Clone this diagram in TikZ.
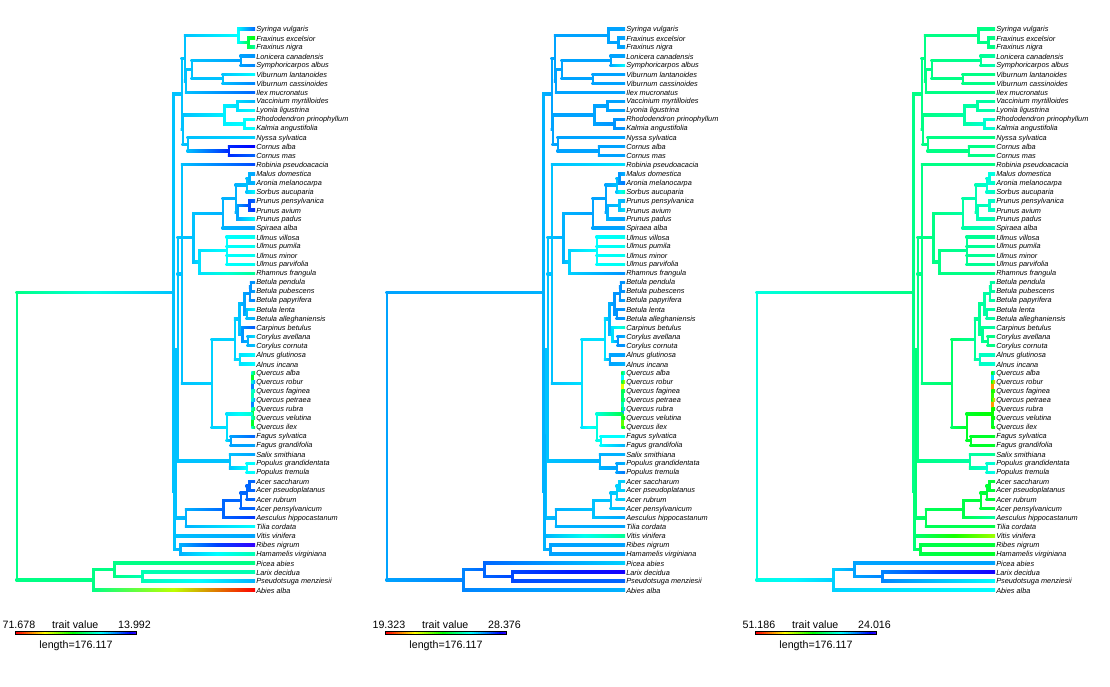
\documentclass[tikz,border=0pt]{standalone}
\usepackage{fontspec}
\setmainfont{Liberation Sans}
\usepackage{xcolor}
\usepackage{tikz}
\usetikzlibrary{calc}

% colour of a node: hue in panel 1, 2, 3
\newcommand{\setnodehue}[4]{%
  \edef\hh{\ifcase\tid\or#2\or#3\or#4\fi}%
  \expandafter\let\csname hue-#1\endcsname\hh
  \definecolor{c#1}{hsb}{\hh,1,1}}

% tip: name, row, hues, species
\newcommand{\leaf}[6]{%
  \setnodehue{#1}{#3}{#4}{#5}%
  \coordinate (#1) at ({\dx+255},{29+(#2-1)*9.05});
  \node[tiplab] (#1-lab) at (#1) {#6};}

% inner node: name, x, first child, last child, hues
\newcommand{\clade}[7]{%
  \setnodehue{#1}{#5}{#6}{#7}%
  \path let \p1=(#3), \p2=(#4), \p3=({\dx+#2},0) in (\x3,{0.5*\y1+0.5*\y2}) coordinate (#1);}

% branch parent -> child
\newcommand{\branch}[2]{%
  \pgfmathsetmacro\hm{0.5*(\csname hue-#1\endcsname+\csname hue-#2\endcsname)}%
  \definecolor{cmid}{hsb}{\hm,1,1}%
  \draw[vline, c#1] (#1) -- (#1 |- #2);
  \shade[left color=c#1, right color=c#2, middle color=cmid] ($(#1 |- #2)+(-0.9pt,-0.9pt)$) rectangle ($(#2)+(0pt,0.9pt)$);}
% short branch, upright part in the child's colour
\newcommand{\qbranch}[2]{%
  \draw[vline, c#2] (#1) -- (#1 |- #2);
  \shade[left color=c#1, right color=c#2] ($(#1 |- #2)+(-0.9pt,-0.9pt)$) rectangle ($(#2)+(0pt,0.9pt)$);}

\begin{document}
\begin{tikzpicture}[x=0.75pt, y=-0.75pt,
    vline/.style={line width=1.8pt},
    tiplab/.style={anchor=west, inner sep=0.75pt, yshift=-0.4pt, font=\fontsize{5.5}{6}\selectfont\itshape},
    lgd/.style={inner sep=0pt, font=\fontsize{8}{9.6}\selectfont}]
    \fill[white] (0,0) rectangle (1110,686);
    \useasboundingbox (0,0) rectangle (1110,686);

    \foreach \tid/\dx/\tmin/\tmax in {1/0/71.678/13.992, 2/370/19.323/28.376, 3/740/51.186/24.016} {
    % Tips
    \leaf{syr}{1}{.6}{.56}{.42}{Syringa vulgaris}
    \leaf{frx}{2}{.33}{.56}{.42}{Fraxinus excelsior}
    \leaf{frn}{3}{.44}{.56}{.42}{Fraxinus nigra}
    \leaf{lon}{4}{.57}{.56}{.44}{Lonicera canadensis}
    \leaf{sym}{5}{.58}{.5}{.45}{Symphoricarpos albus}
    \leaf{vil}{6}{.5}{.56}{.42}{Viburnum lantanoides}
    \leaf{vic}{7}{.58}{.56}{.42}{Viburnum cassinoides}
    \leaf{ile}{8}{.6}{.56}{.42}{Ilex mucronatus}
    \leaf{vac}{9}{.55}{.56}{.44}{Vaccinium myrtilloides}
    \leaf{lyo}{10}{.5}{.56}{.45}{Lyonia ligustrina}
    \leaf{rho}{11}{.5}{.57}{.47}{Rhododendron prinophyllum}
    \leaf{kal}{12}{.5}{.57}{.47}{Kalmia angustifolia}
    \leaf{nys}{13}{.53}{.56}{.42}{Nyssa sylvatica}
    \leaf{coa}{14}{.667}{.56}{.42}{Cornus alba}
    \leaf{com}{15}{.6}{.56}{.42}{Cornus mas}
    \leaf{rob}{16}{.62}{.52}{.42}{Robinia pseudoacacia}
    \leaf{mal}{17}{.56}{.55}{.48}{Malus domestica}
    \leaf{aro}{18}{.55}{.59}{.46}{Aronia melanocarpa}
    \leaf{sor}{19}{.5}{.45}{.46}{Sorbus aucuparia}
    \leaf{prp}{20}{.6}{.55}{.47}{Prunus pensylvanica}
    \leaf{pra}{21}{.64}{.52}{.46}{Prunus avium}
    \leaf{prd}{22}{.5}{.56}{.45}{Prunus padus}
    \leaf{spi}{23}{.56}{.56}{.46}{Spiraea alba}
    \leaf{ulv}{24}{.49}{.49}{.43}{Ulmus villosa}
    \leaf{ulp}{25}{.49}{.49}{.43}{Ulmus pumila}
    \leaf{ulmn}{26}{.49}{.49}{.43}{Ulmus minor}
    \leaf{ulf}{27}{.49}{.49}{.43}{Ulmus parvifolia}
    \leaf{rha}{28}{.43}{.57}{.42}{Rhamnus frangula}
    \leaf{bpe}{29}{.57}{.57}{.44}{Betula pendula}
    \leaf{bpu}{30}{.56}{.57}{.44}{Betula pubescens}
    \leaf{bpa}{31}{.58}{.56}{.44}{Betula papyrifera}
    \leaf{ble}{32}{.5}{.57}{.44}{Betula lenta}
    \leaf{bal}{33}{.55}{.57}{.44}{Betula alleghaniensis}
    \leaf{cbe}{34}{.61}{.46}{.44}{Carpinus betulus}
    \leaf{cav}{35}{.52}{.55}{.42}{Corylus avellana}
    \leaf{cco}{36}{.54}{.57}{.42}{Corylus cornuta}
    \leaf{agl}{37}{.5}{.56}{.46}{Alnus glutinosa}
    \leaf{ain}{38}{.5}{.55}{.47}{Alnus incana}
    \leaf{qal}{39}{.36}{.5}{.52}{Quercus alba}
    \leaf{qro}{40}{.58}{.18}{.1}{Quercus robur}
    \leaf{qfa}{41}{.45}{.4}{.3}{Quercus faginea}
    \leaf{qpe}{42}{.58}{.45}{.1}{Quercus petraea}
    \leaf{qru}{43}{.38}{.55}{.33}{Quercus rubra}
    \leaf{qve}{44}{.38}{.3}{.34}{Quercus velutina}
    \leaf{qil}{45}{.36}{.27}{.36}{Quercus ilex}
    \leaf{fsy}{46}{.6}{.5}{.36}{Fagus sylvatica}
    \leaf{fgr}{47}{.56}{.55}{.36}{Fagus grandifolia}
    \leaf{sal}{48}{.56}{.55}{.43}{Salix smithiana}
    \leaf{pgr}{49}{.5}{.55}{.47}{Populus grandidentata}
    \leaf{ptr}{50}{.5}{.59}{.49}{Populus tremula}
    \leaf{asa}{51}{.6}{.53}{.37}{Acer saccharum}
    \leaf{aps}{52}{.6}{.53}{.37}{Acer pseudoplatanus}
    \leaf{aru}{53}{.6}{.53}{.37}{Acer rubrum}
    \leaf{ape}{54}{.6}{.54}{.38}{Acer pensylvanicum}
    \leaf{aes}{55}{.63}{.56}{.44}{Aesculus hippocastanum}
    \leaf{til}{56}{.5}{.56}{.38}{Tilia cordata}
    \leaf{vit}{57}{.56}{.43}{.23}{Vitis vinifera}
    \leaf{rib}{58}{.7}{.56}{.37}{Ribes nigrum}
    \leaf{ham}{59}{.45}{.56}{.36}{Hamamelis virginiana}
    \leaf{pic}{60}{.42}{.53}{.56}{Picea abies}
    \leaf{lar}{61}{.45}{.68}{.68}{Larix decidua}
    \leaf{pse}{62}{.55}{.6}{.5}{Pseudotsuga menziesii}
    \leaf{abi}{63}{0}{.55}{.5}{Abies alba}

    % Asterids
    \clade{fxn}{248.3}{frx}{frn}{.38}{.56}{.42}
    \clade{ole}{238.3}{syr}{fxn}{.5}{.56}{.42}
    \clade{cap}{240.7}{lon}{sym}{.56}{.56}{.43}
    \clade{vib}{222.7}{vil}{vic}{.54}{.56}{.42}
    \clade{dip}{191.7}{cap}{vib}{.54}{.56}{.42}
    \clade{cam}{186}{dip}{ile}{.54}{.56}{.42}
    \clade{lam}{185}{ole}{cam}{.54}{.56}{.42}
    \clade{vl}{237.3}{vac}{lyo}{.52}{.56}{.44}
    \clade{rk}{244.3}{rho}{kal}{.5}{.57}{.47}
    \clade{eri}{224.3}{vl}{rk}{.51}{.56}{.44}
    \clade{cor}{229}{coa}{com}{.64}{.56}{.42}
    \clade{crn}{187.7}{nys}{cor}{.54}{.56}{.42}
    \clade{ec}{182.7}{eri}{crn}{.54}{.56}{.42}
    \clade{ast}{181.7}{lam}{ec}{.54}{.56}{.42}
    % Rosales
    \clade{ma}{249.3}{mal}{aro}{.55}{.57}{.48}
    \clade{mal2}{246.7}{ma}{sor}{.54}{.54}{.47}
    \clade{pp}{249.3}{prp}{pra}{.62}{.54}{.46}
    \clade{pru}{237.3}{pp}{prd}{.56}{.55}{.45}
    \clade{ros}{235.7}{mal2}{pru}{.55}{.56}{.45}
    \clade{rsp}{222.7}{ros}{spi}{.55}{.56}{.44}
    \clade{ulm}{226.7}{ulv}{ulf}{.5}{.5}{.43}
    \clade{urh}{199.3}{ulm}{rha}{.52}{.53}{.42}
    \clade{rsl}{193.3}{rsp}{urh}{.54}{.55}{.42}
    % Fagales
    \clade{bpp}{251}{bpe}{bpu}{.57}{.57}{.44}
    \clade{bp3}{250}{bpp}{bpa}{.57}{.57}{.44}
    \clade{bla}{246.7}{ble}{bal}{.54}{.57}{.44}
    \clade{bet}{244.3}{bp3}{bla}{.56}{.57}{.44}
    \clade{cyl}{247.7}{cav}{cco}{.55}{.57}{.42}
    \clade{ccy}{242.3}{cbe}{cyl}{.57}{.52}{.43}
    \clade{bcc}{239.3}{bet}{ccy}{.54}{.55}{.43}
    \clade{aln}{240}{agl}{ain}{.52}{.56}{.46}
    \clade{btl}{235}{bcc}{aln}{.53}{.52}{.43}
    \setnodehue{q}{.47}{.38}{.33}
    \coordinate (q) at ({\dx+252.5},414);
    \clade{fag}{230.7}{fsy}{fgr}{.56}{.5}{.36}
    \clade{fgc}{226.7}{q}{fag}{.52}{.48}{.36}
    \clade{fgl}{211.7}{btl}{fgc}{.53}{.52}{.4}
    \clade{ff}{182}{rob}{fgl}{.54}{.54}{.42}
    \clade{pop}{246.7}{pgr}{ptr}{.5}{.56}{.47}
    \clade{slc}{230}{sal}{pop}{.54}{.55}{.44}
    \clade{fab}{177.7}{rsl}{slc}{.54}{.54}{.42}
    % Malvids, Vitis, Saxifragales
    \clade{a2}{249.3}{asa}{aps}{.6}{.53}{.37}
    \clade{a3}{246.7}{a2}{aru}{.6}{.53}{.37}
    \clade{ace}{240.7}{a3}{ape}{.6}{.54}{.37}
    \clade{sap}{223.3}{ace}{aes}{.6}{.54}{.38}
    \clade{mlv}{186}{sap}{til}{.55}{.55}{.39}
    \clade{rsd}{175.3}{fab}{mlv}{.54}{.54}{.41}
    \clade{sax}{180.3}{rib}{ham}{.55}{.56}{.38}
    \clade{sr}{174.3}{rsd}{sax}{.54}{.55}{.41}
    \clade{ang}{173.3}{ast}{sr}{.54}{.55}{.42}
    % Gymnosperms and root
    \clade{g2}{142.3}{lar}{pse}{.45}{.62}{.58}
    \clade{g1}{114.3}{pic}{g2}{.42}{.6}{.56}
    \clade{gym}{93.3}{g1}{abi}{.42}{.58}{.53}
    \clade{root}{16.7}{ang}{gym}{.42}{.56}{.48}

    % Branches
    \branch{fxn}{frx} \branch{fxn}{frn} \branch{ole}{syr} \branch{ole}{fxn}
    \branch{cap}{lon} \branch{cap}{sym} \branch{vib}{vil} \branch{vib}{vic}
    \branch{dip}{cap} \branch{dip}{vib} \branch{cam}{dip} \branch{cam}{ile}
    \branch{lam}{ole} \branch{lam}{cam}
    \branch{vl}{vac} \branch{vl}{lyo} \branch{rk}{rho} \branch{rk}{kal}
    \branch{eri}{vl} \branch{eri}{rk} \branch{cor}{coa} \branch{cor}{com}
    \branch{crn}{nys} \branch{crn}{cor} \branch{ec}{eri} \branch{ec}{crn}
    \branch{ast}{lam} \branch{ast}{ec}
    \branch{ma}{mal} \branch{ma}{aro} \branch{mal2}{ma} \branch{mal2}{sor}
    \branch{pp}{prp} \branch{pp}{pra} \branch{pru}{pp} \branch{pru}{prd}
    \branch{ros}{mal2} \branch{ros}{pru} \branch{rsp}{ros} \branch{rsp}{spi}
    \branch{ulm}{ulv} \branch{ulm}{ulp} \branch{ulm}{ulmn} \branch{ulm}{ulf}
    \branch{urh}{ulm} \branch{urh}{rha} \branch{rsl}{rsp} \branch{rsl}{urh}
    \branch{bpp}{bpe} \branch{bpp}{bpu} \branch{bp3}{bpp} \branch{bp3}{bpa}
    \branch{bla}{ble} \branch{bla}{bal} \branch{bet}{bp3} \branch{bet}{bla}
    \branch{cyl}{cav} \branch{cyl}{cco} \branch{ccy}{cbe} \branch{ccy}{cyl}
    \branch{bcc}{bet} \branch{bcc}{ccy} \branch{aln}{agl} \branch{aln}{ain}
    \branch{btl}{bcc} \branch{btl}{aln}
    \qbranch{q}{qal} \qbranch{q}{qro} \qbranch{q}{qfa} \qbranch{q}{qpe}
    \qbranch{q}{qru} \qbranch{q}{qil} \qbranch{q}{qve}
    \branch{fag}{fsy} \branch{fag}{fgr} \branch{fgc}{q} \branch{fgc}{fag}
    \branch{fgl}{btl} \branch{fgl}{fgc} \branch{ff}{rob} \branch{ff}{fgl}
    \branch{pop}{pgr} \branch{pop}{ptr} \branch{slc}{sal} \branch{slc}{pop}
    \branch{fab}{rsl} \branch{fab}{ff} \branch{fab}{slc}
    \branch{a2}{asa} \branch{a2}{aps} \branch{a3}{a2} \branch{a3}{aru}
    \branch{ace}{a3} \branch{ace}{ape} \branch{sap}{ace} \branch{sap}{aes}
    \branch{mlv}{sap} \branch{mlv}{til} \branch{rsd}{fab} \branch{rsd}{mlv}
    \branch{sax}{rib} \branch{sax}{ham} \branch{sr}{rsd} \branch{sr}{vit} \branch{sr}{sax}
    \branch{ang}{ast} \branch{ang}{sr}
    \branch{g2}{lar} \branch{g2}{pse} \branch{g1}{pic} \branch{g1}{g2}
    \branch{gym}{g1} \branch{gym}{abi} \branch{root}{ang} \branch{root}{gym}

    % Legend
    \node[lgd] (lo-\tid) at ({\dx+18.9},625) {\tmin};
    \node[lgd] (tv-\tid) at ({\dx+75.3},625) {trait value};
    \node[lgd] (hi-\tid) at ({\dx+134.5},625) {\tmax};
    \foreach \k in {0,...,59} {
        \pgfmathsetmacro\hk{0.7*\k/59}
        \definecolor{bk}{hsb}{\hk,1,1}
        \fill[bk] ({\dx+15.7+\k*2.017},631.3) rectangle ({\dx+15.7+(\k+1)*2.017+0.2},634.8);
    }
    \draw[line width=0.6pt] ({\dx+15.7},631.3) rectangle ({\dx+136.7},634.8);
    \node[lgd] (len-\tid) at ({\dx+76},646) {length=176.117};
    }
\end{tikzpicture}
\end{document}
